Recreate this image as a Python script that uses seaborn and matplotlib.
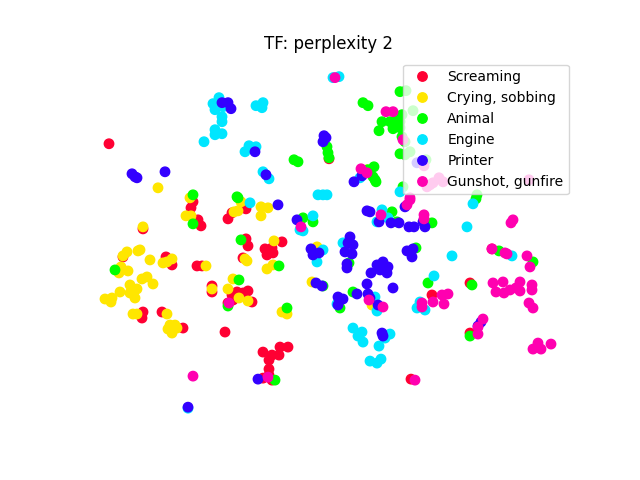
import matplotlib
matplotlib.use("Agg")
import matplotlib.pyplot as plt
import pandas as pd
import seaborn as sns

title = "TF: perplexity 2"
categories = ["Screaming", "Crying, sobbing", "Animal", "Engine", "Printer", "Gunshot, gunfire"]
colors = ["#ff0033", "#ffe600", "#00ff00", "#00e6ff", "#3300ff", "#ff00b0"]

screaming = [(109,144),(143,229),(193,202),(191,208),(198,220),(201,226),(228,219),(232,213),(246,209),(246,239),(248,246),
    (265,249),(282,242),(273,253),(267,255),(272,248),(123,257),(166,257),(172,265),(197,266),(202,266),(243,258),
    (212,286),(212,292),(232,295),(237,292),(248,291),(243,293),(233,300),(252,302),(228,303),(143,312),(142,318),
    (162,312),(183,328),(225,332),(263,352),(272,355),(280,347),(288,347),(279,355),(269,360),(269,369),(269,375),
    (263,378),(272,380),(329,159),(432,295),(411,379),(470,333),(470,283),(492,249)]
crying = [(158,188),(143,227),(190,198),(186,216),(191,216),(241,202),(234,212),(238,211),(261,207),(268,208),(261,216),
    (274,241),(267,269),(273,265),(127,252),(123,256),(138,251),(140,250),(150,260),(172,259),(167,262),(163,263),
    (206,266),(247,261),(245,259),(121,267),(128,271),(119,273),(142,279),(147,277),(153,284),(130,285),(137,289),
    (130,293),(135,298),(120,292),(105,299),(112,298),(111,302),(133,314),(137,314),(167,314),(170,325),(168,329),
    (177,328),(172,333),(175,325),(212,289),(233,279),(228,289),(239,298),(248,301),(282,312),(287,314),(312,282),
    (317,247),(372,305),(367,170)]
animal = [(193,195),(237,197),(238,198),(241,240),(279,266),(115,270),(193,224),(294,160),(298,162),(239,280),(228,306),
    (287,308),(275,380),(327,147),(328,153),(329,158),(363,103),(368,106),(382,122),(379,131),(390,122),(397,120),
    (393,129),(400,128),(402,115),(400,92),(400,122),(400,154),(402,137),(403,187),(374,167),(368,170),(373,177),
    (376,182),(375,180),(406,91),(413,111),(405,142),(410,152),(405,155),(426,160),(477,195),(303,218),(313,222),
    (392,212),(416,248),(432,223),(428,283),(353,292),(340,308),(349,263),(323,286),(397,222),(476,199),(472,285),
    (499,251),(533,262),(470,336)]
engine = [(339,77),(333,78),(219,98),(213,104),(215,110),(223,107),(222,117),(222,122),(215,130),(215,135),(222,134),
    (204,142),(256,106),(263,103),(262,108),(249,146),(256,147),(245,152),(263,172),(269,179),(318,195),(327,195),
    (323,195),(360,178),(400,192),(250,203),(300,230),(313,216),(303,231),(323,250),(317,262),(343,243),(382,210),
    (377,222),(388,218),(452,256),(434,276),(375,297),(337,304),(377,311),(420,302),(417,308),(425,310),(353,328),
    (362,332),(358,336),(363,342),(390,334),(385,338),(379,346),(370,361),(377,363),(381,359),(473,204),(467,227),
    (512,256),(188,408)]
printer = [(222,103),(228,103),(231,109),(255,152),(324,136),(326,138),(323,142),(266,175),(354,182),(362,176),
    (132,174),(135,177),(137,178),(165,172),(278,205),(370,212),(367,211),(379,222),(391,223),(399,223),(409,227),
    (414,227),(425,227),(423,222),(405,207),(297,220),(350,237),(348,243),(353,245),(345,252),(352,254),(347,264),
    (347,268),(311,249),(313,255),(319,253),(316,283),(322,286),(383,262),(377,265),(371,273),(380,270),(388,267),
    (387,273),(407,251),(413,249),(412,257),(367,284),(393,288),(357,294),(368,294),(370,298),(338,297),(343,299),
    (338,305),(378,305),(382,333),(383,336),(481,322),(478,326),(258,379),(188,407),(417,163)]
gunshot = [(335,78),(386,112),(393,112),(403,140),(361,169),(367,173),(424,166),(439,178),(433,183),(427,187),(430,185),
    (443,182),(529,180),(410,198),(410,200),(407,205),(381,215),(424,215),(424,219),(301,227),(369,300),(383,307),
    (433,302),(442,295),(448,294),(444,304),(422,303),(422,307),(415,380),(513,220),(511,223),(492,249),(505,253),
    (507,254),(527,256),(530,267),(493,283),(503,282),(496,292),(504,293),(510,290),(520,282),(520,291),(516,288),
    (532,285),(532,290),(529,303),(533,308),(538,343),(533,349),(541,349),(551,344),(483,319),(478,327),(478,334),
    (229,303),(268,377),(193,376)]
series = [screaming, crying, animal, engine, printer, gunshot]

rows = [{"x": x, "y": y, "kind": name} for name, pts in zip(categories, series) for x, y in pts]
df = pd.DataFrame(rows)

sns.set_style("white", {"text.color": "black"})
fig, ax = plt.subplots(figsize=(6.4, 4.8), dpi=100)
sns.scatterplot(data=df, x="x", y="y", hue="kind", hue_order=categories, palette=colors,
                s=46, linewidth=1, edgecolor="face", alpha=1, ax=ax, zorder=2)
ax.set_xlim(80, 576)
ax.set_ylim(427, 58)
ax.set_title(title, fontsize=12, color="black")
ax.axis("off")
leg = ax.legend(loc="upper right", fontsize=10, framealpha=0.8, title=None, frameon=True)
for txt in leg.get_texts():
    txt.set_color("black")
fig.savefig("out.png", dpi=100)
